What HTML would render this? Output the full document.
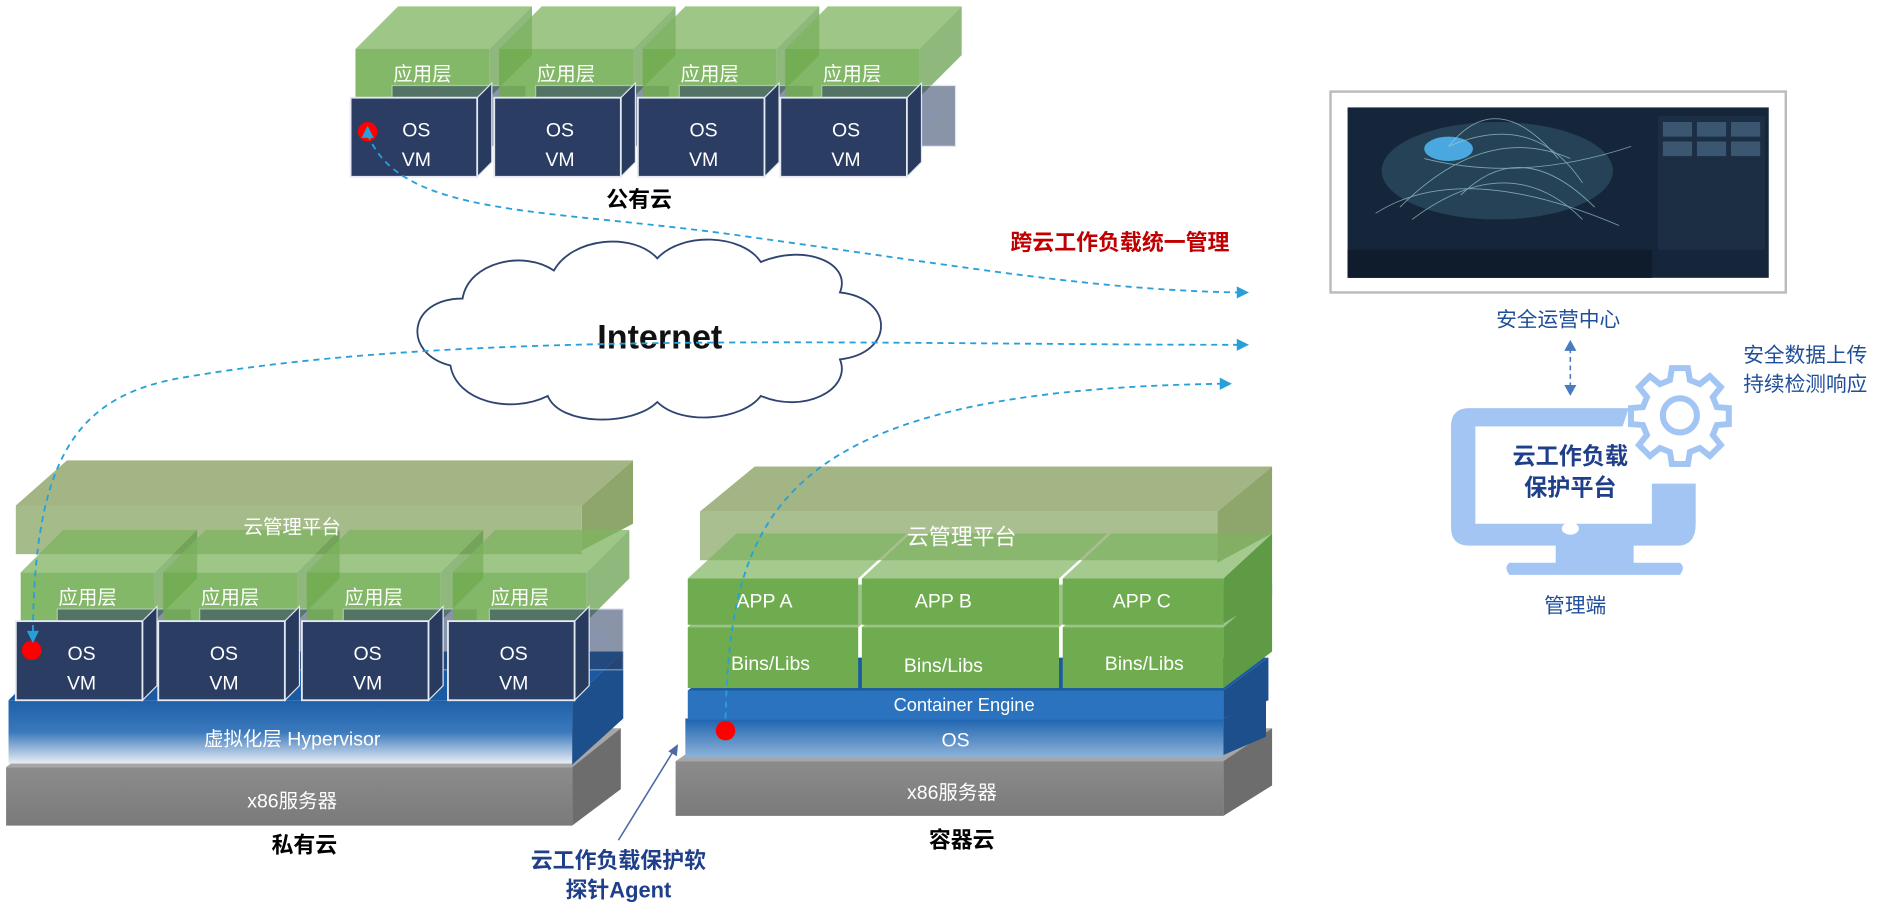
<!DOCTYPE html>
<html><head><meta charset="utf-8"><style>
html,body{margin:0;padding:0;background:#fff;width:1899px;height:916px;overflow:hidden}
svg{display:block}
text{font-family:"Liberation Sans","Noto Sans CJK SC",sans-serif}
</style></head><body>
<svg width="1899" height="916" viewBox="0 0 1560 752" xmlns="http://www.w3.org/2000/svg">
<defs>
<linearGradient id="blue" x1="0" y1="0" x2="0" y2="1"><stop offset="0" stop-color="#1e5fa8"/><stop offset="0.5" stop-color="#3a79bb"/><stop offset="1" stop-color="#e9eef5"/></linearGradient>
<linearGradient id="blue2" x1="0" y1="0" x2="0" y2="1"><stop offset="0" stop-color="#1d63b0"/><stop offset="1" stop-color="#8fb3d8"/></linearGradient>
<linearGradient id="gray" x1="0" y1="0" x2="0" y2="1"><stop offset="0" stop-color="#8c8c8c"/><stop offset="1" stop-color="#7a7a7a"/></linearGradient>
<g id="unit">
  <polygon points="0,40 35,5 145,5 110,40" fill="#7db45f" opacity="0.75"/>
  <polygon points="110,40 145,5 145,45 110,80" fill="#5f9a45" opacity="0.7"/>
  <rect x="0" y="40" width="110" height="40" fill="#6fac4f" opacity="0.85"/>
  <text x="55" y="66" fill="#fff" font-size="16" text-anchor="middle">应用层</text>
  <rect x="30" y="70" width="110" height="50" fill="#2c3d63" stroke="#c9d3e2" stroke-width="1" opacity="0.55"/>
  <text x="112" y="98" fill="#8494b3" font-size="15" text-anchor="middle">VM</text>
  <polygon points="100,80 112,68 112,133 100,145" fill="#283a5e" stroke="#dfe6f0" stroke-width="1"/>
  <rect x="-4" y="80" width="104" height="65" fill="#2c3d63" stroke="#e4e9f2" stroke-width="1.5"/>
  <text x="50" y="112" fill="#fff" font-size="16" text-anchor="middle">OS</text>
  <text x="50" y="136" fill="#fff" font-size="16" text-anchor="middle">VM</text>
</g>
</defs>

<!-- public cloud -->
<use href="#unit" transform="translate(292,0)"/>
<use href="#unit" transform="translate(410,0)"/>
<use href="#unit" transform="translate(528,0)"/>
<use href="#unit" transform="translate(645,0)"/>
<circle cx="302" cy="108" r="8" fill="#f00"/>
<text x="525" y="170" font-size="18" font-weight="bold" text-anchor="middle" fill="#000">公有云</text>

<!-- internet cloud -->
<path d="M370,300 C330,290 335,245 380,245 C385,215 430,205 455,222 C470,195 520,190 540,212 C560,190 610,192 625,215 C660,200 700,215 690,240 C735,245 735,290 690,295 C700,320 660,340 625,325 C610,345 560,350 540,330 C520,350 460,350 450,325 C420,340 375,330 370,300 Z" fill="#fff" stroke="#2f4470" stroke-width="1.5"/>
<text x="542" y="286" font-size="28" font-weight="bold" text-anchor="middle" fill="#111">Internet</text>

<!-- private cloud -->
<polygon points="5,630 45,598 510,598 470,630" fill="#a6a6a6"/>
<polygon points="470,630 510,598 510,648 470,678" fill="#6d6d6d"/>
<rect x="5" y="630" width="465" height="48" fill="url(#gray)"/>
<text x="240" y="663" font-size="16" fill="#fff" text-anchor="middle">x86服务器</text>
<polygon points="7,575 47,535 512,535 470,575" fill="#1a5aa3"/>
<polygon points="470,575 512,535 512,590 470,628" fill="#1d4f8c"/>
<rect x="7" y="575" width="463" height="52" fill="url(#blue)"/>
<text x="240" y="612" font-size="16" fill="#fff" text-anchor="middle">虚拟化层 Hypervisor</text>
<polygon points="13,415 55,378 520,378 478,415" fill="#a3b585"/>
<polygon points="478,415 520,378 520,430 478,452" fill="#8ea66c"/>
<rect x="13" y="415" width="465" height="40" fill="#a0b884" opacity="0.95"/>
<use href="#unit" transform="translate(17,430)"/>
<use href="#unit" transform="translate(134,430)"/>
<use href="#unit" transform="translate(252,430)"/>
<use href="#unit" transform="translate(372,430)"/>
<text x="240" y="438" font-size="16" fill="#fff" text-anchor="middle">云管理平台</text>
<circle cx="26" cy="534" r="8" fill="#f00"/>
<text x="250" y="700" font-size="18" font-weight="bold" text-anchor="middle" fill="#000">私有云</text>

<!-- container cloud -->
<polygon points="555,625 595,598 1045,598 1005,625" fill="#a6a6a6"/>
<polygon points="1005,625 1045,598 1045,645 1005,670" fill="#6d6d6d"/>
<rect x="555" y="625" width="450" height="45" fill="url(#gray)"/>
<text x="782" y="656" font-size="16" fill="#fff" text-anchor="middle">x86服务器</text>
<polygon points="1005,590 1040,575 1040,605 1005,620" fill="#1d4f8c"/>
<rect x="563" y="590" width="442" height="32" fill="url(#blue2)"/>
<text x="785" y="613" font-size="16" fill="#fff" text-anchor="middle">OS</text>
<polygon points="565,567 600,540 1042,540 1005,567" fill="#1a5aa3"/>
<polygon points="1005,567 1042,540 1042,575 1005,590" fill="#1d4f8c"/>
<rect x="565" y="567" width="440" height="24" fill="#2b72bf"/>
<text x="792" y="584" font-size="15" fill="#fff" text-anchor="middle">Container Engine</text>
<!-- mgmt -->
<polygon points="575,420 620,383 1045,383 1000,420" fill="#a3b585"/>
<polygon points="1000,420 1045,383 1045,438 1000,462" fill="#8ea66c"/>
<rect x="575" y="420" width="425" height="40" fill="#a0b884" opacity="0.9"/>
<!-- bins -->
<polygon points="565,515 605,480 745,480 705,515" fill="#84b56a" opacity="0.8"/>
<polygon points="708,515 748,480 910,480 870,515" fill="#84b56a" opacity="0.8"/>
<polygon points="873,515 913,480 1045,480 1005,515" fill="#84b56a" opacity="0.8"/>
<polygon points="1005,515 1045,480 1045,535 1005,565" fill="#5f9a45"/>
<rect x="565" y="515" width="140" height="50" fill="#6fac4f"/>
<rect x="708" y="515" width="162" height="50" fill="#6fac4f"/>
<rect x="873" y="515" width="132" height="50" fill="#6fac4f"/>
<text x="633" y="550" font-size="16" fill="#fff" text-anchor="middle">Bins/Libs</text>
<text x="775" y="552" font-size="16" fill="#fff" text-anchor="middle">Bins/Libs</text>
<text x="940" y="550" font-size="16" fill="#fff" text-anchor="middle">Bins/Libs</text>
<!-- apps -->
<polygon points="565,475 605,438 745,438 705,475" fill="#7db45f" opacity="0.7"/>
<polygon points="708,475 748,438 910,438 870,475" fill="#7db45f" opacity="0.7"/>
<polygon points="873,475 913,438 1045,438 1005,475" fill="#7db45f" opacity="0.7"/>
<polygon points="1005,475 1045,438 1045,488 1005,512" fill="#5f9a45"/>
<rect x="565" y="475" width="140" height="38" fill="#6fac4f"/>
<rect x="708" y="475" width="162" height="38" fill="#6fac4f"/>
<rect x="873" y="475" width="132" height="38" fill="#6fac4f"/>
<text x="628" y="499" font-size="16" fill="#fff" text-anchor="middle">APP A</text>
<text x="775" y="499" font-size="16" fill="#fff" text-anchor="middle">APP B</text>
<text x="938" y="499" font-size="16" fill="#fff" text-anchor="middle">APP C</text>
<text x="790" y="447" font-size="18" fill="#fff" text-anchor="middle">云管理平台</text>
<circle cx="596" cy="600" r="8" fill="#f00"/>
<text x="790" y="696" font-size="18" font-weight="bold" text-anchor="middle" fill="#000">容器云</text>

<!-- agent label -->
<line x1="508" y1="690" x2="553" y2="617" stroke="#4a6aa3" stroke-width="1.3"/>
<polygon points="557,611 549,617 556,621" fill="#4a6aa3"/>
<text x="508" y="713" font-size="18" font-weight="bold" text-anchor="middle" fill="#1f3f8a">云工作负载保护软</text>
<text x="508" y="737" font-size="18" font-weight="bold" text-anchor="middle" fill="#1f3f8a">探针Agent</text>

<!-- dashed arrows -->
<g fill="none" stroke="#27a0da" stroke-width="1.5" stroke-dasharray="5,4">
<path d="M302,110 C330,180 450,170 620,195 C800,220 900,238 1018,240"/>
<path d="M1018,283 C700,283 380,270 150,310 C60,325 28,380 27,522"/>
<path d="M596,590 C600,420 640,320 1005,315"/>
</g>
<g fill="#27a0da">
<polygon points="1026,240 1016,235 1016,245"/>
<polygon points="1026,283 1016,278 1016,288"/>
<polygon points="1012,315 1002,310 1002,320"/>
<polygon points="27,528 22,518 32,518"/>
<polygon points="302,103 297,113 307,113"/>
</g>
<text x="920" y="205" font-size="18" font-weight="bold" text-anchor="middle" fill="#c00000">跨云工作负载统一管理</text>

<!-- SOC screen -->
<rect x="1093" y="75" width="374" height="165" fill="#fff" stroke="#bbb" stroke-width="2"/>
<rect x="1107" y="88" width="346" height="140" fill="#16263a"/>
<rect x="1107" y="205" width="250" height="23" fill="#0f1c2c"/>
<ellipse cx="1230" cy="140" rx="95" ry="40" fill="#2a4a5e" opacity="0.8"/>
<ellipse cx="1190" cy="122" rx="20" ry="10" fill="#4aa7e0"/>
<g stroke="#9fd0d8" stroke-width="0.7" fill="none" opacity="0.7">
<path d="M1190,120 Q1230,70 1280,130"/><path d="M1190,120 Q1260,90 1300,150"/><path d="M1150,170 Q1220,100 1290,130"/><path d="M1160,180 Q1240,120 1300,180"/><path d="M1200,160 Q1250,110 1310,170"/><path d="M1130,175 Q1200,130 1330,185"/><path d="M1170,130 Q1250,150 1340,120"/>
</g>
<rect x="1362" y="95" width="88" height="110" fill="#1c2e44"/>
<g fill="#3a5670"><rect x="1366" y="100" width="24" height="12"/><rect x="1394" y="100" width="24" height="12"/><rect x="1422" y="100" width="24" height="12"/><rect x="1366" y="116" width="24" height="12"/><rect x="1394" y="116" width="24" height="12"/><rect x="1422" y="116" width="24" height="12"/></g>
<text x="1280" y="268" font-size="17" text-anchor="middle" fill="#1f4e9a">安全运营中心</text>
<!-- double arrow -->
<line x1="1290" y1="286" x2="1290" y2="318" stroke="#4a7bbf" stroke-width="1.3" stroke-dasharray="4,3"/>
<polygon points="1290,279 1285,288 1295,288" fill="#4a7bbf"/>
<polygon points="1290,325 1285,316 1295,316" fill="#4a7bbf"/>
<text x="1483" y="297" font-size="17" text-anchor="middle" fill="#1f4e9a">安全数据上传</text>
<text x="1483" y="321" font-size="17" text-anchor="middle" fill="#1f4e9a">持续检测响应</text>
<!-- monitor -->
<path d="M1207,335 L1338,335 L1333,350 L1212,350 L1212,430 L1357,430 L1357,397 L1393,397 L1393,430 Q1393,448 1378,448 L1342,448 L1342,462 L1380,462 Q1385,466 1380,472 L1240,472 Q1235,466 1240,462 L1278,462 L1278,448 L1207,448 Q1192,448 1192,433 L1192,350 Q1192,335 1207,335 Z" fill="#a3c5f3"/>
<ellipse cx="1290" cy="434" rx="7" ry="5" fill="#fff"/>
<g transform="translate(1380,343)">
<path d="M-8,-40 L8,-40 L10,-28 L20,-24 L30,-32 L41,-21 L33,-11 L37,-1 L49,0 L49,16 L37,17 L33,27 L41,37 L30,48 L20,40 L10,44 L8,56 L-8,56 L-10,44 L-20,40 L-30,48 L-41,37 L-33,27 L-37,17 L-49,16 L-49,0 L-37,-1 L-33,-11 L-41,-21 L-30,-32 L-20,-24 L-10,-28 Z" transform="translate(0,-8) scale(0.82)" fill="#fff" stroke="#a3c5f3" stroke-width="6"/>
<circle cx="0" cy="-2" r="14" fill="#fff" stroke="#a3c5f3" stroke-width="5"/>
</g>
<text x="1290" y="381" font-size="19" font-weight="bold" text-anchor="middle" fill="#1f3f8a">云工作负载</text>
<text x="1290" y="407" font-size="19" font-weight="bold" text-anchor="middle" fill="#1f3f8a">保护平台</text>
<text x="1294" y="503" font-size="17" text-anchor="middle" fill="#1f4e9a">管理端</text>
</svg>
</body></html>
